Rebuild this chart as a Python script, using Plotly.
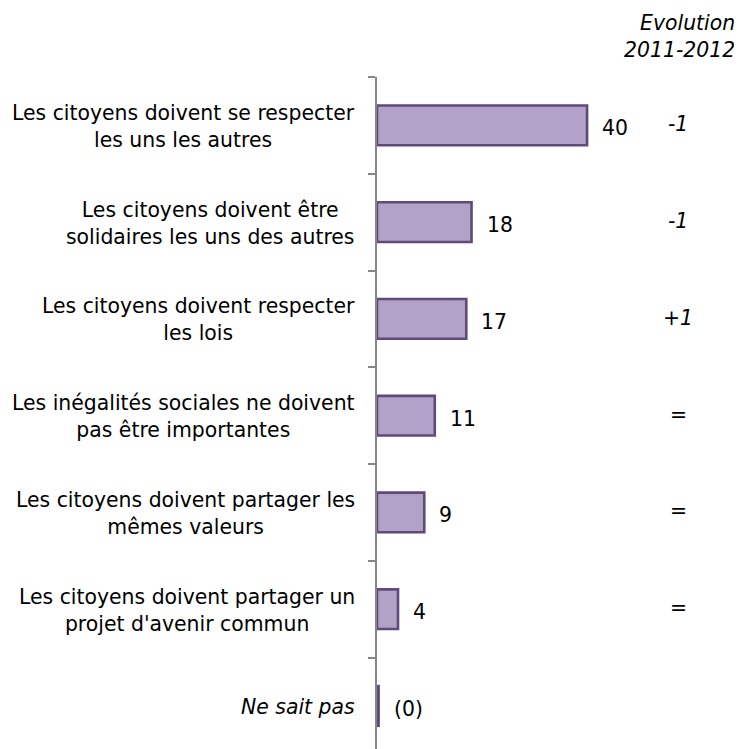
import plotly.graph_objects as go

categories = [
    "Les citoyens doivent se respecter<br>les uns les autres",
    "Les citoyens doivent être<br>solidaires les uns des autres",
    "Les citoyens doivent respecter<br>les lois",
    "Les inégalités sociales ne doivent<br>pas être importantes",
    "Les citoyens doivent partager les<br>mêmes valeurs",
    "Les citoyens doivent partager un<br>projet d'avenir commun",
    "<i>Ne sait pas</i>",
]
values = [40, 18, 17, 11, 9, 4, 0.3]
value_labels = ["40", "18", "17", "11", "9", "4", "(0)"]
evolution = ["<i>-1</i>", "<i>-1</i>", "<i>+1</i>", "<i>=</i>", "<i>=</i>", "<i>=</i>", ""]
header = "<i>Evolution<br>2011-2012</i>"

# page body has an 8px margin; figure coordinates are page coordinates minus 8
OFF = 8
W, H = 742 - OFF, 749 - OFF
ML, MT = 377 - OFF, 77 - OFF
FONT = "DejaVu Sans"
FS = 20.4


def px_x(p):
    return (p - OFF - ML) / (W - ML)


def px_y(p):
    return (H - (p - OFF)) / (H - MT)


fig = go.Figure(go.Bar(
    x=values, y=categories, orientation="h", width=0.41,
    marker=dict(color="#B3A2C7", line=dict(color="#604A7B", width=2.6)),
    hoverinfo="skip",
))

ann = []
for c, v, t, e in zip(categories, values, value_labels, evolution):
    ann.append(dict(x=px_x(357), xref="paper", y=c, yref="y", yshift=-1,
                    text=c, showarrow=False, xanchor="right", align="center",
                    font=dict(family=FONT, size=FS, color="#000")))
    ann.append(dict(x=v, xref="x", y=c, yref="y", text=t, showarrow=False,
                    xanchor="left", xshift=13, yshift=-3,
                    font=dict(family=FONT, size=FS, color="#000")))
    if e:
        ann.append(dict(x=px_x(678), xref="paper", y=c, yref="y", text=e,
                        showarrow=False, xanchor="center", yshift=1,
                        font=dict(family=FONT, size=FS, color="#000")))
ann.append(dict(x=px_x(737), xref="paper", y=px_y(36), yref="paper", text=header,
                showarrow=False, xanchor="right", yanchor="middle", align="right",
                font=dict(family=FONT, size=FS, color="#000")))

fig.update_layout(
    width=W, height=H,
    margin=dict(l=ML, r=0, t=MT, b=0, pad=0),
    plot_bgcolor="white", paper_bgcolor="white",
    showlegend=False,
    xaxis=dict(range=[0, 69.5], visible=False, fixedrange=True),
    yaxis=dict(
        type="category", range=[6.445, -0.5], tickson="boundaries",
        showticklabels=False, ticks="outside", ticklen=7, tickwidth=1.5,
        tickcolor="#868686", showline=True, linecolor="#868686", linewidth=1.5,
        showgrid=False, zeroline=False, fixedrange=True,
    ),
    annotations=ann,
)

fig.write_html("out.html")
